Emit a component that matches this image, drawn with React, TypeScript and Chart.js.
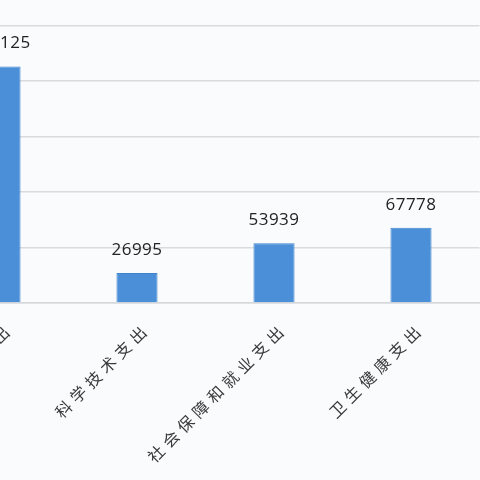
import { useEffect, useRef } from "react";
import { Chart, Plugin, registerables } from "chart.js";

Chart.register(...registerables);

// 카테고리 / 값
const categories = ["教育支出", "科学技术支出", "社会保障和就业支出", "卫生健康支出"];
const values = [213125, 26995, 53939, 67778];
const yMin = 0;
const yMax = 300000;
const yStep = 50000;

// 축 라벨 자간
const spacingPlugin: Plugin<"bar"> = {
  id: "labelSpacing",
  beforeDraw(chart) {
    (chart.ctx as any).letterSpacing = "5px";
  },
  afterDraw(chart) {
    (chart.ctx as any).letterSpacing = "0px";
  },
};

// 막대 위 값 표시
const valueLabels: Plugin<"bar"> = {
  id: "valueLabels",
  afterDatasetsDraw(chart) {
    const ctx = chart.ctx;
    const meta = chart.getDatasetMeta(0);
    ctx.save();
    (ctx as any).letterSpacing = "0.5px";
    ctx.font = '17px "Open Sans"';
    ctx.fillStyle = "#222";
    ctx.textAlign = "center";
    ctx.textBaseline = "alphabetic";
    meta.data.forEach((bar, i) => {
      ctx.fillText(String(values[i]), bar.x, bar.y - 18);
    });
    ctx.restore();
  },
};

export default function App() {
  const canvasRef = useRef<HTMLCanvasElement>(null);

  useEffect(() => {
    if (!canvasRef.current) return;
    const chart = new Chart(canvasRef.current, {
      type: "bar",
      data: {
        labels: categories,
        datasets: [
          {
            data: values,
            backgroundColor: "#4a8fd8",
            borderColor: "#3f83cc",
            borderWidth: 1,
            barPercentage: 0.3,
            categoryPercentage: 1,
          },
        ],
      },
      options: {
        responsive: true,
        maintainAspectRatio: false,
        animation: false,
        layout: { padding: { left: 31.5, right: 0.5, top: 30, bottom: 0 } },
        plugins: {
          legend: { display: false },
          tooltip: { enabled: false },
        },
        scales: {
          x: {
            grid: { display: false },
            border: { display: true, color: "#d6d8dc", width: 1.5 },
            ticks: {
              minRotation: 45,
              maxRotation: 45,
              autoSkip: false,
              padding: 8,
              labelOffset: 10,
              color: "#3a3a3a",
              font: { family: '"Noto Sans CJK SC"', size: 16 },
            },
            afterFit: (scale) => {
              scale.height = 197;
            },
          },
          y: {
            min: yMin,
            max: yMax,
            grid: { color: "#d9dbdf", lineWidth: 1.5, drawTicks: false },
            border: { display: false },
            ticks: { display: false, stepSize: yStep },
          },
        },
      },
      plugins: [spacingPlugin, valueLabels],
    });
    return () => chart.destroy();
  }, []);

  return (
    <div
      style={{
        position: "fixed",
        left: 0,
        top: 0,
        width: 480,
        height: 480,
        overflow: "hidden",
        background: "#fafbfd",
      }}
    >
      <div style={{ position: "absolute", left: -100, top: -60, width: 580, height: 560 }}>
        <canvas ref={canvasRef} />
      </div>
    </div>
  );
}
